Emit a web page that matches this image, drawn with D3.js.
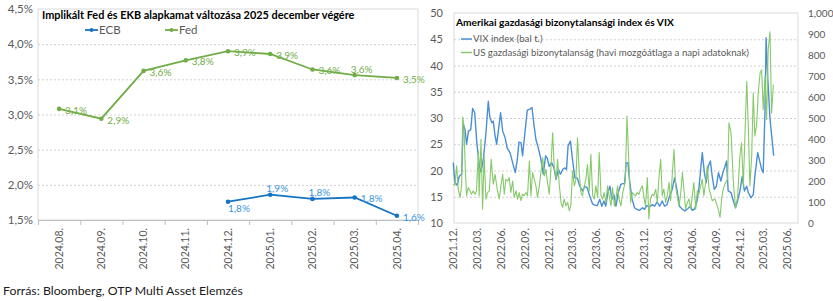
<!DOCTYPE html>
<html>
<head>
<meta charset="utf-8">
<script src="https://cdn.jsdelivr.net/npm/d3@7"></script>
<style>
  body { margin: 0; background: #fff; }
  svg { display: block; font-family: Lato, "Liberation Sans", sans-serif; }
</style>
</head>
<body>
<svg id="chart" width="833" height="301"></svg>
<script>
// ---- left chart data: implied policy rate at end of Dec 2025 ----
let months = ["2024.08.", "2024.09.", "2024.10.", "2024.11.", "2024.12.", "2025.01.", "2025.02.", "2025.03.", "2025.04."];
let fed = [3.08, 2.94, 3.62, 3.77, 3.9, 3.86, 3.64, 3.56, 3.52];
let ecb = [null, null, null, null, 1.76, 1.86, 1.8, 1.82, 1.56];
let pctTicks = [1.5, 2.0, 2.5, 3.0, 3.5, 4.0, 4.5];

// ---- right chart data: VIX (weekly) and US EPU index ----
let vix = [
  ["2021-12-02", 21.5], ["2021-12-08", 17.7], ["2021-12-17", 17.2], ["2021-12-25", 18.9], ["2022-01-03", 19.3],
  ["2022-01-09", 28.8], ["2022-01-16", 27.8], ["2022-01-22", 25.0], ["2022-01-29", 27.5], ["2022-02-07", 27.8],
  ["2022-02-14", 31.8], ["2022-02-22", 31.0], ["2022-03-02", 25.3], ["2022-03-12", 20.8], ["2022-03-18", 19.7],
  ["2022-03-27", 22.1], ["2022-04-06", 27.2], ["2022-04-15", 33.2], ["2022-04-21", 30.1], ["2022-04-29", 29.1],
  ["2022-05-04", 29.4], ["2022-05-10", 26.9], ["2022-05-17", 25.0], ["2022-05-24", 27.8], ["2022-06-01", 31.0],
  ["2022-06-09", 27.5], ["2022-06-18", 26.3], ["2022-06-26", 24.3], ["2022-07-07", 23.4], ["2022-07-17", 21.5],
  ["2022-07-27", 19.6], ["2022-08-04", 22.1], ["2022-08-10", 25.4], ["2022-08-18", 25.3], ["2022-08-24", 22.8],
  ["2022-09-02", 27.2], ["2022-09-11", 31.5], ["2022-09-21", 31.7], ["2022-09-29", 32.0], ["2022-10-07", 28.5],
  ["2022-10-14", 25.9], ["2022-10-23", 24.3], ["2022-11-01", 22.4], ["2022-11-11", 19.3], ["2022-11-20", 22.8],
  ["2022-11-26", 22.4], ["2022-12-04", 20.8], ["2022-12-13", 21.5], ["2022-12-22", 20.5], ["2022-12-30", 18.3],
  ["2023-01-08", 20.2], ["2023-01-16", 19.3], ["2023-01-24", 20.2], ["2023-02-02", 20.5], ["2023-02-08", 20.2],
  ["2023-02-14", 24.7], ["2023-02-23", 25.6], ["2023-03-03", 22.1], ["2023-03-12", 18.6], ["2023-03-21", 18.6],
  ["2023-03-31", 17.0], ["2023-04-10", 16.1], ["2023-04-19", 17.0], ["2023-04-28", 16.7], ["2023-05-08", 15.1],
  ["2023-05-18", 13.7], ["2023-05-27", 13.4], ["2023-06-05", 13.3], ["2023-06-15", 14.5], ["2023-06-23", 13.2],
  ["2023-07-01", 14.2], ["2023-07-08", 13.2], ["2023-07-16", 15.8], ["2023-07-24", 17.0], ["2023-07-31", 14.5],
  ["2023-08-08", 15.4], ["2023-08-16", 13.2], ["2023-08-25", 15.8], ["2023-09-03", 17.3], ["2023-09-10", 17.5],
  ["2023-09-18", 17.5], ["2023-09-24", 21.4], ["2023-10-01", 21.5], ["2023-10-07", 18.0], ["2023-10-17", 14.5],
  ["2023-10-26", 12.9], ["2023-11-04", 12.6], ["2023-11-14", 12.4], ["2023-11-25", 12.9], ["2023-12-03", 12.6],
  ["2023-12-12", 13.3], ["2023-12-23", 13.1], ["2024-01-02", 13.5], ["2024-01-11", 13.2], ["2024-01-20", 14.0],
  ["2024-01-30", 13.2], ["2024-02-09", 14.2], ["2024-02-18", 13.2], ["2024-02-27", 13.5], ["2024-03-08", 15.1],
  ["2024-03-18", 16.4], ["2024-03-27", 18.6], ["2024-04-05", 16.4], ["2024-04-15", 13.2], ["2024-04-26", 12.6],
  ["2024-05-06", 12.3], ["2024-05-16", 12.7], ["2024-05-27", 13.2], ["2024-06-03", 12.4], ["2024-06-12", 12.7],
  ["2024-06-21", 14.2], ["2024-06-29", 17.0], ["2024-07-06", 20.8], ["2024-07-11", 23.4], ["2024-07-19", 19.6],
  ["2024-07-26", 17.7], ["2024-08-03", 20.8], ["2024-08-11", 21.8], ["2024-08-18", 18.9], ["2024-08-26", 16.4],
  ["2024-09-03", 17.0], ["2024-09-11", 19.6], ["2024-09-20", 18.0], ["2024-09-28", 19.6], ["2024-10-06", 20.8],
  ["2024-10-12", 21.8], ["2024-10-18", 16.1], ["2024-10-29", 15.8], ["2024-11-07", 14.2], ["2024-11-15", 12.9],
  ["2024-11-23", 14.2], ["2024-12-02", 16.1], ["2024-12-11", 18.9], ["2024-12-19", 16.1], ["2024-12-28", 17.0],
  ["2025-01-03", 15.8], ["2025-01-13", 14.8], ["2025-01-22", 15.4], ["2025-01-28", 18.9], ["2025-02-08", 23.4],
  ["2025-02-17", 21.5], ["2025-02-23", 20.2], ["2025-03-01", 19.6], ["2025-03-08", 31.7], ["2025-03-12", 45.3],
  ["2025-03-18", 38.0], ["2025-03-27", 29.8], ["2025-04-05", 25.3], ["2025-04-10", 22.8]
];
let epu = [
  ["2021-12-02", 185], ["2021-12-08", 180], ["2021-12-15", 272], ["2021-12-21", 161], ["2021-12-28", 122],
  ["2022-01-03", 177], ["2022-01-07", 505], ["2022-01-12", 461], ["2022-01-17", 256], ["2022-01-22", 130],
  ["2022-01-28", 169], ["2022-02-04", 153], ["2022-02-10", 137], ["2022-02-16", 153], ["2022-02-23", 137],
  ["2022-03-01", 153], ["2022-03-08", 343], ["2022-03-11", 130], ["2022-03-18", 398], ["2022-03-24", 66],
  ["2022-03-30", 319], ["2022-04-06", 114], ["2022-04-12", 145], ["2022-04-19", 153], ["2022-04-26", 303],
  ["2022-05-04", 185], ["2022-05-11", 232], ["2022-05-19", 161], ["2022-05-27", 114], ["2022-06-02", 177],
  ["2022-06-09", 232], ["2022-06-15", 137], ["2022-06-21", 208], ["2022-06-28", 200], ["2022-07-04", 216],
  ["2022-07-10", 145], ["2022-07-17", 200], ["2022-07-23", 122], ["2022-07-30", 153], ["2022-08-05", 114],
  ["2022-08-11", 145], ["2022-08-18", 106], ["2022-08-24", 137], ["2022-08-30", 130], ["2022-09-06", 145],
  ["2022-09-12", 130], ["2022-09-19", 295], ["2022-09-25", 130], ["2022-10-01", 240], ["2022-10-08", 208],
  ["2022-10-14", 177], ["2022-10-20", 122], ["2022-10-27", 177], ["2022-11-02", 240], ["2022-11-09", 311],
  ["2022-11-15", 224], ["2022-11-21", 256], ["2022-11-28", 185], ["2022-12-04", 137], ["2022-12-10", 256],
  ["2022-12-17", 430], ["2022-12-23", 264], ["2022-12-30", 208], ["2023-01-05", 303], ["2023-01-11", 185],
  ["2023-01-18", 98], ["2023-01-24", 74], ["2023-01-30", 114], ["2023-02-06", 82], ["2023-02-12", 98],
  ["2023-02-19", 58], ["2023-02-25", 90], ["2023-03-03", 248], ["2023-03-10", 177], ["2023-03-16", 208],
  ["2023-03-22", 406], ["2023-03-29", 232], ["2023-04-04", 145], ["2023-04-10", 130], ["2023-04-17", 177],
  ["2023-04-23", 208], ["2023-04-29", 280], ["2023-05-06", 153], ["2023-05-12", 327], ["2023-05-19", 130],
  ["2023-05-25", 114], ["2023-05-31", 177], ["2023-06-07", 122], ["2023-06-13", 335], ["2023-06-20", 130],
  ["2023-06-26", 114], ["2023-07-02", 145], ["2023-07-09", 98], ["2023-07-15", 177], ["2023-07-21", 130],
  ["2023-07-28", 82], ["2023-08-03", 169], ["2023-08-10", 82], ["2023-08-16", 114], ["2023-08-22", 177],
  ["2023-08-29", 106], ["2023-09-04", 82], ["2023-09-10", 137], ["2023-09-17", 177], ["2023-09-21", 208],
  ["2023-09-27", 509], ["2023-10-05", 272], ["2023-10-11", 98], ["2023-10-17", 145], ["2023-10-23", 137],
  ["2023-10-30", 130], ["2023-11-05", 145], ["2023-11-12", 137], ["2023-11-18", 161], ["2023-11-25", 177],
  ["2023-12-01", 122], ["2023-12-07", 82], ["2023-12-14", 216], ["2023-12-20", 19], ["2023-12-26", 114],
  ["2024-01-02", 137], ["2024-01-08", 130], ["2024-01-15", 161], ["2024-01-21", 98], ["2024-01-27", 208],
  ["2024-02-03", 303], ["2024-02-09", 130], ["2024-02-15", 161], ["2024-02-22", 98], ["2024-02-28", 130],
  ["2024-03-06", 193], ["2024-03-12", 106], ["2024-03-18", 224], ["2024-03-25", 351], ["2024-03-31", 177],
  ["2024-04-06", 130], ["2024-04-13", 82], ["2024-04-19", 130], ["2024-04-26", 240], ["2024-05-02", 161],
  ["2024-05-08", 66], ["2024-05-15", 98], ["2024-05-21", 114], ["2024-05-28", 66], ["2024-06-03", 130],
  ["2024-06-09", 193], ["2024-06-16", 66], ["2024-06-22", 153], ["2024-06-28", 137], ["2024-07-05", 177],
  ["2024-07-11", 208], ["2024-07-17", 130], ["2024-07-24", 193], ["2024-07-30", 272], ["2024-08-06", 161],
  ["2024-08-12", 137], ["2024-08-18", 106], ["2024-08-28", 114], ["2024-09-04", 90], ["2024-09-10", 66],
  ["2024-09-17", 27], ["2024-09-23", 114], ["2024-09-29", 161], ["2024-10-08", 193], ["2024-10-16", 208],
  ["2024-10-21", 477], ["2024-10-29", 430], ["2024-11-07", 193], ["2024-11-15", 74], ["2024-11-23", 122],
  ["2024-12-02", 319], ["2024-12-08", 382], ["2024-12-15", 177], ["2024-12-21", 414], ["2024-12-28", 675],
  ["2025-01-03", 461], ["2025-01-09", 177], ["2025-01-16", 319], ["2025-01-22", 619], ["2025-01-28", 414],
  ["2025-02-04", 469], ["2025-02-10", 619], ["2025-02-17", 714], ["2025-02-23", 730], ["2025-03-01", 540],
  ["2025-03-08", 698], ["2025-03-14", 493], ["2025-03-20", 825], ["2025-03-27", 911], ["2025-04-02", 524],
  ["2025-04-09", 659]
];
let vixTicks = [10, 15, 20, 25, 30, 35, 40, 45, 50];
let epuTicks = [0, 100, 200, 300, 400, 500, 600, 700, 800, 900, 1000];

const svg = d3.select("#chart");
const parseDate = d3.timeParse("%Y-%m-%d");
const huLocale = d3.formatLocale({ decimal: ",", thousands: " ", grouping: [3], currency: ["", ""] });
const fmt1 = huLocale.format(".1f");

const textGray = "#595959";
const gridColor = "#d0d0d0";
const frameColor = "#d9d9d9";

// ================= left chart =================
function drawLeft() {
  let x0 = 38, x1 = 418, yTop = 9, yBot = 220;
  let fedColor = "#70AD47";
  let ecbColor = "#1573C5";
  let ecbText = "#3A95DD";

  let x = d3.scaleBand().domain(months).range([x0, x1]);
  let y = d3.scaleLinear().domain([1.5, 4.5]).range([yBot, yTop]);
  let cx = m => x(m) + x.bandwidth() / 2;

  svg.append("rect")
    .attr("x", x0).attr("y", yTop)
    .attr("width", x1 - x0).attr("height", yBot - yTop)
    .attr("fill", "none").attr("stroke", frameColor);

  let grid = svg.append("g")
    .attr("transform", "translate(" + x0 + ",0)")
    .call(d3.axisLeft(y).tickValues(pctTicks.slice(1, -1)).tickSize(-(x1 - x0)).tickFormat(""));
  grid.select(".domain").remove();
  grid.selectAll("line").attr("stroke", gridColor).attr("stroke-dasharray", "2,2");

  let yAxis = svg.append("g")
    .attr("transform", "translate(" + x0 + ",0)")
    .call(d3.axisLeft(y).tickValues(pctTicks).tickSize(0).tickPadding(5)
      .tickFormat(d => fmt1(d) + "%"));
  yAxis.select(".domain").remove();
  yAxis.selectAll("text").attr("fill", textGray).attr("font-size", 11.5)
    .attr("font-family", "Lato, sans-serif");

  // tick marks between categories
  let bounds = d3.scaleLinear().domain([0, months.length]).range([x0, x1]);
  let tickAxis = svg.append("g")
    .attr("transform", "translate(0," + yBot + ")")
    .call(d3.axisBottom(bounds).ticks(months.length).tickSize(5).tickFormat(""));
  tickAxis.select(".domain").attr("stroke", "#bfbfbf");
  tickAxis.selectAll("line").attr("stroke", "#bfbfbf");

  let xAxis = svg.append("g")
    .attr("transform", "translate(0," + yBot + ")")
    .call(d3.axisBottom(x).tickSize(0));
  xAxis.select(".domain").remove();
  xAxis.selectAll("text")
    .attr("transform", "rotate(-90)")
    .attr("text-anchor", "end")
    .attr("x", -8).attr("y", 0).attr("dy", "0.35em")
    .attr("fill", textGray).attr("font-size", 10.5)
    .attr("font-family", "Lato, sans-serif");

  let line = d3.line()
    .defined(d => d[1] != null)
    .x(d => cx(d[0]))
    .y(d => y(d[1]));

  let series = [
    { name: "ECB", values: ecb, color: ecbColor, text: ecbText, pos: [0, 0, 0, 0, "b", "t", "t", "r", "r"] },
    { name: "Fed", values: fed, color: fedColor, text: fedColor, pos: ["r", "r", "r", "r", "r", "r", "r", "t", "r"] }
  ];

  series.forEach(s => {
    let pts = months.map((m, i) => [m, s.values[i], s.pos[i]]);
    svg.append("path").datum(pts)
      .attr("d", line).attr("fill", "none")
      .attr("stroke", s.color).attr("stroke-width", 1.8);
    let valid = pts.filter(d => d[1] != null);
    svg.append("g").selectAll("circle").data(valid).enter()
      .append("circle")
      .attr("cx", d => cx(d[0])).attr("cy", d => y(d[1]))
      .attr("r", 2.3).attr("fill", s.color);
    svg.append("g").selectAll("text").data(valid).enter()
      .append("text")
      .text(d => fmt1(d[1]) + "%")
      .attr("x", d => cx(d[0]) + (d[2] == "r" ? 6 : d[2] == "t" ? 7 : 11))
      .attr("y", d => y(d[1]) + (d[2] == "r" ? 1.5 : d[2] == "t" ? -6 : 7))
      .attr("dy", "0.35em")
      .attr("text-anchor", d => d[2] == "r" ? "start" : "middle")
      .attr("font-size", 10)
      .attr("fill", s.text);
  });

  // legend
  let leg = svg.append("g").selectAll("g").data(series).enter()
    .append("g")
    .attr("transform", (d, i) => "translate(85," + 30 + ")translate(" + i * 80 + ",0)");
  leg.append("line").attr("x1", 0).attr("x2", 13)
    .attr("stroke", d => d.color).attr("stroke-width", 1.8);
  leg.append("circle").attr("cx", 6.5).attr("r", 2).attr("fill", d => d.color);
  leg.append("text").text(d => d.name)
    .attr("x", 14).attr("dy", "0.35em")
    .attr("font-size", 11.5).attr("fill", textGray);

  svg.append("text")
    .text("Implikált Fed és EKB alapkamat változása 2025 december végére")
    .attr("x", 42).attr("y", 19)
    .attr("font-size", 10.9).attr("font-weight", "bold").attr("fill", "#000");
}

// ================= right chart =================
function drawRight() {
  let x0 = 454, x1 = 798, yTop = 13, yBot = 223;
  let vixColor = "#4A8FD6";
  let epuColor = "#86C96A";

  let x = d3.scaleTime()
    .domain([parseDate("2021-12-01"), parseDate("2025-07-12")])
    .range([453, x1]);
  let yL = d3.scaleLinear().domain([10, 50]).range([yBot, yTop]);
  let yR = d3.scaleLinear().domain([0, 1000]).range([yBot, yTop]);

  svg.append("rect")
    .attr("x", x0).attr("y", yTop)
    .attr("width", x1 - x0).attr("height", yBot - yTop)
    .attr("fill", "none").attr("stroke", frameColor);

  let grid = svg.append("g")
    .attr("transform", "translate(" + x0 + ",0)")
    .call(d3.axisLeft(yL).tickValues(vixTicks.slice(1, -1)).tickSize(-(x1 - x0)).tickFormat(""));
  grid.select(".domain").remove();
  grid.selectAll("line").attr("stroke", gridColor).attr("stroke-dasharray", "2,2");

  let axL = svg.append("g")
    .attr("transform", "translate(" + x0 + ",0)")
    .call(d3.axisLeft(yL).tickValues(vixTicks).tickSize(0).tickPadding(11));
  axL.select(".domain").remove();
  axL.selectAll("text").attr("fill", textGray).attr("font-size", 11)
    .attr("font-family", "Lato, sans-serif");

  let axR = svg.append("g")
    .attr("transform", "translate(" + x1 + ",0)")
    .call(d3.axisRight(yR).tickValues(epuTicks).tickSize(0).tickPadding(10));
  axR.select(".domain").remove();
  axR.selectAll("text").attr("fill", textGray).attr("font-size", 10)
    .attr("font-family", "Lato, sans-serif");

  // quarterly ticks counted from the first month (Dec, Mar, Jun, Sep)
  let quarterTicks = d3.timeMonth.range(parseDate("2021-12-01"), parseDate("2025-06-02"), 3);
  let xAxis = svg.append("g")
    .attr("transform", "translate(0," + yBot + ")")
    .call(d3.axisBottom(x)
      .tickValues(quarterTicks)
      .tickSize(0)
      .tickFormat(d3.timeFormat("%Y.%m.")));
  xAxis.select(".domain").remove();
  xAxis.selectAll("text")
    .attr("transform", "rotate(-90)")
    .attr("text-anchor", "end")
    .attr("x", -5).attr("y", 0).attr("dy", "0.35em")
    .attr("fill", textGray).attr("font-size", 10.5)
    .attr("font-family", "Lato, sans-serif");

  let epuLine = d3.line().x(d => x(parseDate(d[0]))).y(d => yR(d[1]));
  let vixLine = d3.line().x(d => x(parseDate(d[0]))).y(d => yL(d[1]));

  svg.append("path").datum(vix)
    .attr("d", vixLine).attr("fill", "none")
    .attr("stroke", vixColor).attr("stroke-width", 1.4)
    .attr("stroke-linejoin", "round");
  svg.append("path").datum(epu)
    .attr("d", epuLine).attr("fill", "none")
    .attr("stroke", epuColor).attr("stroke-width", 1.1)
    .attr("stroke-linejoin", "round");

  let legendItems = [
    { name: "VIX index (bal t.)", color: vixColor },
    { name: "US gazdasági bizonytalanság (havi mozgóátlaga a napi adatoknak)", color: epuColor }
  ];
  let leg = svg.append("g").selectAll("g").data(legendItems).enter()
    .append("g")
    .attr("transform", (d, i) => "translate(461," + (39 + i * 13.5) + ")");
  leg.append("line").attr("x1", 0).attr("x2", 11)
    .attr("stroke", d => d.color).attr("stroke-width", 1.5);
  leg.append("text").text(d => d.name)
    .attr("x", 12).attr("dy", "0.35em")
    .attr("font-size", 9.7).attr("fill", textGray);

  svg.append("text")
    .text("Amerikai gazdasági bizonytalansági index és VIX")
    .attr("x", 456).attr("y", 26)
    .attr("font-size", 10.2).attr("font-weight", "bold").attr("fill", "#000");
}

drawLeft();
drawRight();

svg.append("text")
  .text("Forrás: Bloomberg, OTP Multi Asset Elemzés")
  .attr("x", 3).attr("y", 295)
  .attr("font-size", 12.3).attr("fill", "#1a1a1a");
</script>
</body>
</html>
